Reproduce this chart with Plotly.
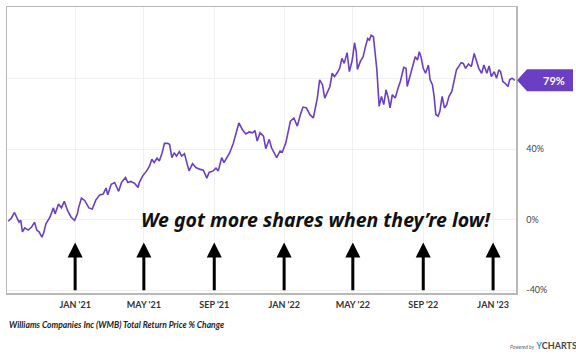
import plotly.graph_objects as go

# ---- data ----
dates = [
    "2020-09-06", "2020-09-11", "2020-09-17", "2020-09-21", "2020-09-25", "2020-09-28",
    "2020-10-01", "2020-10-05", "2020-10-11", "2020-10-17", "2020-10-22", "2020-10-26",
    "2020-10-30", "2020-11-04", "2020-11-07", "2020-11-11", "2020-11-18", "2020-11-24",
    "2020-11-27", "2020-12-03", "2020-12-08", "2020-12-13", "2020-12-19", "2020-12-25",
    "2020-12-31", "2021-01-05", "2021-01-07", "2021-01-12", "2021-01-18", "2021-01-25",
    "2021-01-31", "2021-02-06", "2021-02-13", "2021-02-19", "2021-02-24", "2021-02-27",
    "2021-03-05", "2021-03-11", "2021-03-18", "2021-03-23", "2021-03-30", "2021-04-03",
    "2021-04-08", "2021-04-15", "2021-04-21", "2021-04-23", "2021-04-29", "2021-05-06",
    "2021-05-11", "2021-05-15", "2021-05-19", "2021-05-24", "2021-05-28", "2021-06-02",
    "2021-06-06", "2021-06-12", "2021-06-15", "2021-06-19", "2021-06-23", "2021-06-27",
    "2021-07-02", "2021-07-06", "2021-07-11", "2021-07-15", "2021-07-19", "2021-07-25",
    "2021-07-31", "2021-08-06", "2021-08-13", "2021-08-19", "2021-08-23", "2021-08-30",
    "2021-09-04", "2021-09-08", "2021-09-14", "2021-09-18", "2021-09-24", "2021-09-28",
    "2021-10-04", "2021-10-09", "2021-10-14", "2021-10-20", "2021-10-26", "2021-11-01",
    "2021-11-07", "2021-11-11", "2021-11-15", "2021-11-20", "2021-11-26", "2021-11-30",
    "2021-12-06", "2021-12-10", "2021-12-14", "2021-12-19", "2021-12-25", "2021-12-29",
    "2022-01-04", "2022-01-08", "2022-01-12", "2022-01-18", "2022-01-24", "2022-01-30",
    "2022-02-03", "2022-02-09", "2022-02-15", "2022-02-21", "2022-02-25", "2022-02-28",
    "2022-03-04", "2022-03-09", "2022-03-13", "2022-03-18", "2022-03-22", "2022-03-26",
    "2022-03-30", "2022-04-04", "2022-04-08", "2022-04-12", "2022-04-16", "2022-04-21",
    "2022-04-25", "2022-04-30", "2022-05-04", "2022-05-07", "2022-05-09", "2022-05-14",
    "2022-05-19", "2022-05-23", "2022-05-27", "2022-05-30", "2022-06-02", "2022-06-06",
    "2022-06-12", "2022-06-16", "2022-06-20", "2022-06-24", "2022-06-28", "2022-07-02",
    "2022-07-05", "2022-07-09", "2022-07-14", "2022-07-19", "2022-07-23", "2022-07-29",
    "2022-08-02", "2022-08-04", "2022-08-09", "2022-08-13", "2022-08-18", "2022-08-22",
    "2022-08-25", "2022-08-28", "2022-09-01", "2022-09-05", "2022-09-10", "2022-09-13",
    "2022-09-17", "2022-09-20", "2022-09-23", "2022-09-27", "2022-09-30", "2022-10-04",
    "2022-10-08", "2022-10-12", "2022-10-16", "2022-10-21", "2022-10-25", "2022-10-29",
    "2022-11-02", "2022-11-06", "2022-11-10", "2022-11-14", "2022-11-19", "2022-11-24",
    "2022-11-29", "2022-12-03", "2022-12-07", "2022-12-12", "2022-12-16", "2022-12-21",
    "2022-12-25", "2022-12-29", "2023-01-03", "2023-01-07", "2023-01-11", "2023-01-14",
    "2023-01-18", "2023-01-22", "2023-01-27", "2023-01-30", "2023-02-03", "2023-02-08",
]
values = [
    -1.0, 0.5, 4.0, 1.0, -1.5, -0.5,
    -7.0, -4.7, -6.0, -4.3, -1.5, -6.0,
    -7.0, -10.0, -7.7, -2.4, 1.3, 6.6,
    3.2, 8.8, 6.6, 10.3, 5.0, 1.3,
    -0.5, 3.2, 6.6, 12.2, 10.7, 6.6,
    6.0, 11.0, 14.0, 14.5, 17.9, 14.0,
    20.0, 21.0, 16.0, 21.0, 23.8, 21.0,
    21.6, 20.5, 18.2, 21.0, 24.8, 27.6,
    30.4, 34.2, 32.3, 34.8, 33.2, 37.9,
    43.2, 43.2, 42.6, 35.1, 37.9, 36.0,
    38.5, 36.0, 37.4, 32.3, 27.6, 31.7,
    29.5, 28.6, 28.0, 23.5, 26.7, 27.6,
    29.1, 27.6, 35.1, 32.3, 36.0, 37.9,
    43.0, 49.2, 54.8, 51.1, 48.6, 49.7,
    49.2, 50.5, 44.5, 49.2, 47.3, 40.2,
    45.5, 40.7, 38.3, 35.1, 38.9, 38.3,
    43.5, 49.6, 55.8, 57.6, 53.0, 60.1,
    63.8, 63.3, 59.5, 57.6, 63.3, 68.9,
    79.3, 76.5, 68.9, 72.7, 75.5, 83.0,
    81.1, 83.4, 85.8, 91.4, 88.6, 94.7,
    83.9, 90.5, 100.3, 95.2, 85.2, 89.6,
    92.4, 98.0, 102.7, 101.8, 104.6, 103.7,
    84.9, 64.2, 69.9, 65.2, 73.6, 68.9,
    63.3, 70.8, 68.9, 74.5, 78.3, 86.4,
    85.8, 75.5, 81.1, 86.8, 92.4, 90.5,
    95.2, 92.4, 85.8, 83.0, 87.7, 79.3,
    76.5, 69.9, 59.6, 58.6, 61.4, 69.9,
    63.3, 65.2, 69.9, 72.7, 79.3, 84.9,
    86.8, 89.0, 88.6, 85.8, 88.3, 86.8,
    94.2, 90.5, 85.8, 83.0, 87.7, 83.0,
    87.1, 81.1, 83.9, 80.2, 84.9, 83.9,
    78.3, 77.3, 75.5, 79.3, 80.2, 79.0,
]

tick_dates = ["2021-01-01", "2021-05-01", "2021-09-01", "2022-01-01",
              "2022-05-01", "2022-09-01", "2023-01-01"]
tick_labels = ["JAN '21", "MAY '21", "SEP '21", "JAN '22", "MAY '22", "SEP '22", "JAN '23"]
y_tick_vals = [-40, 0, 40, 80]
y_tick_labels = ["-40%", "0%", "40%", ""]

arrow_dates = tick_dates
arrow_tip = -13
arrow_tail = -41

x_range = ["2020-09-04", "2023-02-10"]
y_range = [-41.7, 120.6]

title_text = "Williams Companies Inc (WMB) Total Return Price % Change"
caption = "We got more shares when they\u2019re low!"

PURPLE = "#6a3fc4"

fig = go.Figure()
fig.add_trace(go.Scatter(
    x=dates, y=values, mode="lines",
    line=dict(color=PURPLE, width=1.6),
    hoverinfo="skip", showlegend=False,
))

annotations = []
for d in arrow_dates:
    annotations.append(dict(
        x=d, y=arrow_tip, xref="x", yref="y",
        ax=d, ay=arrow_tail, axref="x", ayref="y",
        text="", showarrow=True, arrowhead=2, arrowsize=1.0,
        arrowwidth=3, arrowcolor="#000000",
    ))

annotations.append(dict(
    x=0.607, y=0, xref="paper", yref="y", text=caption, showarrow=False,
    font=dict(family="Noto Sans", size=19.5, color="#111111", weight="bold", style="italic"),
    xanchor="center", yanchor="middle",
))

# value tag label
annotations.append(dict(
    x=1, xref="paper", xshift=38, y=values[-1], yref="y",
    text=f"{round(values[-1])}%", showarrow=False,
    font=dict(family="Lato", size=11, color="#ffffff", weight="bold"),
    xanchor="center", yanchor="middle",
))

annotations.append(dict(
    x=0, y=-0.113, xref="paper", yref="paper", text=title_text, showarrow=False,
    xanchor="left", yanchor="middle",
    font=dict(family="Lato", size=8.5, color="#222222", weight="bold", style="italic"),
))
annotations.append(dict(
    x=1.0, xshift=-8, y=-0.185, xref="paper", yref="paper",
    text="<span style='font-size:5px;color:#666'><i>Powered by</i></span> "
         "<b><span style='color:#1fa0d8'>Y</span><span style='color:#444'>CHARTS</span></b>",
    showarrow=False, xanchor="left", yanchor="middle",
    font=dict(family="Lato", size=9, color="#444"),
))

fig.update_layout(
    width=576, height=358,
    margin=dict(l=5, r=60, t=5, b=65),
    paper_bgcolor="white", plot_bgcolor="white",
    annotations=annotations,
    shapes=[dict(
        type="path", xref="paper", yref="y",
        xsizemode="pixel", ysizemode="pixel",
        xanchor=1, yanchor=values[-1],
        path="M1,0 L11,11 L57,11 L57,-11 L11,-11 Z",
        fillcolor=PURPLE, line=dict(width=0), layer="above",
    )],
    xaxis=dict(
        type="date", range=x_range,
        tickvals=tick_dates, ticktext=tick_labels,
        showgrid=True, gridcolor="#f0f0f0", gridwidth=1,
        showline=True, linecolor="#b8b8b8", linewidth=1.5, mirror=True,
        ticks="outside", ticklen=3, tickcolor="rgba(0,0,0,0)", zeroline=False,
        tickfont=dict(family="Lato", size=9, color="#333333", weight="bold"),
    ),
    yaxis=dict(
        range=y_range, side="right",
        tickvals=y_tick_vals, ticktext=y_tick_labels,
        showgrid=True, gridcolor="#f0f0f0", gridwidth=1,
        showline=True, linecolor="#b8b8b8", linewidth=1.5, mirror=True,
        ticks="outside", ticklen=7, tickcolor="rgba(0,0,0,0)",
        zeroline=False,
        tickfont=dict(family="Lato", size=9, color="#444444"),
    ),
)

fig.write_html(
    "out.html",
    config={"displayModeBar": False, "staticPlot": True},
    post_script="document.body.style.margin='0px';document.body.style.overflow='hidden';",
)
